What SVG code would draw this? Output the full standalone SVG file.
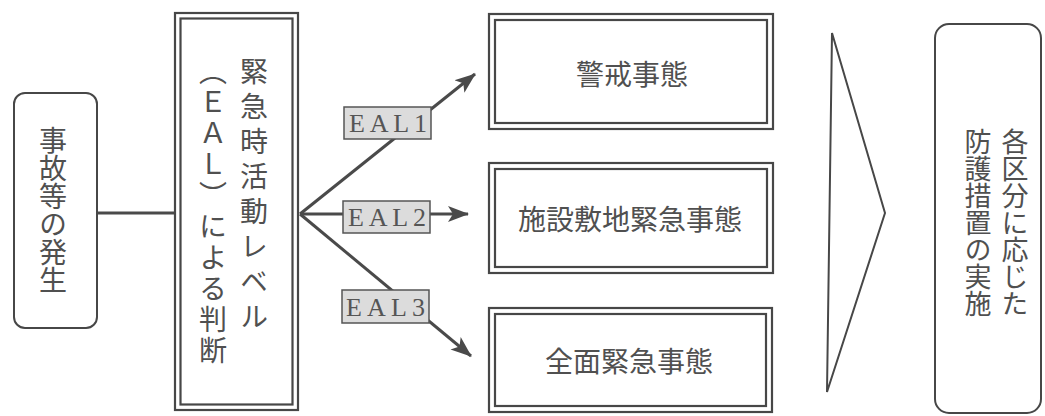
<svg xmlns="http://www.w3.org/2000/svg" width="1045" height="416" viewBox="0 0 1045 416">
<style>
.frame{fill:none;stroke:#474747;stroke-width:2.2}
.rbox{fill:#fff;stroke:#474747;stroke-width:2}
.line{fill:none;stroke:#4a4a4a;stroke-width:3}
.jp{font-family:"Noto Sans CJK JP","Noto Sans",sans-serif;fill:#505050}
.vt{writing-mode:vertical-rl;font-family:"Noto Sans CJK JP","Noto Sans",sans-serif;fill:#505050}
.lbl{fill:#dcdcdc;stroke:#555;stroke-width:1.5}
.lt{font-family:"Liberation Serif",serif;font-size:26px;fill:#555}
</style>
<defs>
<marker id="ah" markerUnits="userSpaceOnUse" markerWidth="22" markerHeight="18" refX="20" refY="9" orient="auto">
<path d="M0,1 L21,9 L0,17 L5,9 Z" fill="#4a4a4a"/>
</marker>
</defs>
<rect width="1045" height="416" fill="#fff"/>

<g id="connectors">
<line class="line" x1="96" y1="213" x2="175" y2="213"/>
<line class="line" x1="300" y1="214" x2="475" y2="74" marker-end="url(#ah)"/>
<line class="line" x1="300" y1="214" x2="468" y2="214" marker-end="url(#ah)"/>
<line class="line" x1="300" y1="214" x2="471" y2="356" marker-end="url(#ah)"/>
</g>

<g id="node-start">
<rect class="rbox" x="14" y="93" width="83" height="235" rx="11"/>
<text class="vt" x="53" y="126" font-size="28">事故等の発生</text>
</g>

<g id="node-eal">
<rect class="frame" x="175" y="13" width="123" height="397"/>
<rect class="frame" x="180.5" y="18.5" width="112" height="386"/>
<text class="vt" x="254" y="57" font-size="28" style="letter-spacing:7px">緊急時活動レベル</text>
<text class="vt" x="213" y="57" font-size="28" style="letter-spacing:3px">（ＥＡＬ）による判断</text>
</g>

<g id="label-eal1">
<rect class="lbl" x="344" y="107" width="87" height="32"/>
<text class="lt" x="349" y="132" textLength="78" lengthAdjust="spacing">EAL1</text>
</g>
<g id="label-eal2">
<rect class="lbl" x="343" y="201" width="87" height="32"/>
<text class="lt" x="348" y="226" textLength="78" lengthAdjust="spacing">EAL2</text>
</g>
<g id="label-eal3">
<rect class="lbl" x="342" y="290" width="87" height="33"/>
<text class="lt" x="346" y="316" textLength="79" lengthAdjust="spacing">EAL3</text>
</g>

<g id="node-alert">
<rect class="frame" x="489" y="14" width="284" height="115"/>
<rect class="frame" x="495" y="20" width="272" height="103"/>
<text class="jp" x="632" y="85" font-size="28" text-anchor="middle">警戒事態</text>
</g>

<g id="node-site">
<rect class="frame" x="489" y="163" width="284" height="110"/>
<rect class="frame" x="495" y="169" width="272" height="98"/>
<text class="jp" x="630" y="230" font-size="28" text-anchor="middle">施設敷地緊急事態</text>
</g>

<g id="node-general">
<rect class="frame" x="489" y="308" width="283" height="104"/>
<rect class="frame" x="495" y="314" width="271" height="92"/>
<text class="jp" x="629" y="372" font-size="28" text-anchor="middle">全面緊急事態</text>
</g>

<g id="big-arrow">
<path d="M832,33 L885,213 L827,392 Z" fill="none" stroke="#474747" stroke-width="2" stroke-linejoin="miter"/>
</g>

<g id="node-action">
<rect class="rbox" x="935" y="24" width="106" height="389" rx="14"/>
<text class="vt" x="1015" y="128" font-size="27">各区分に応じた</text>
<text class="vt" x="978" y="128" font-size="27">防護措置の実施</text>
</g>
</svg>
